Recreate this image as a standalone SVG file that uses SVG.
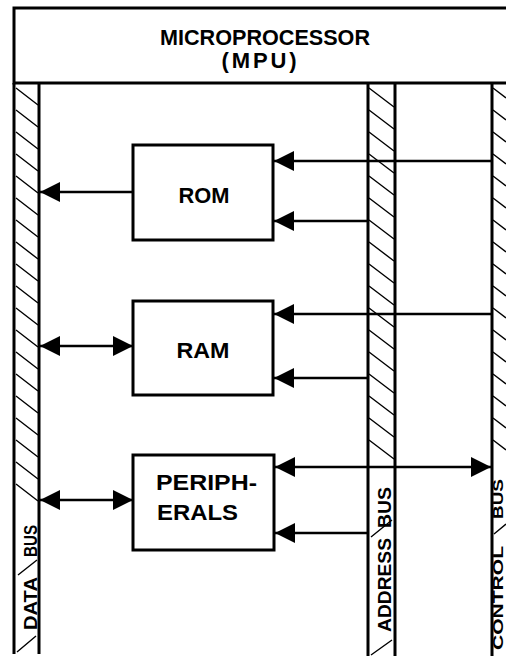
<svg xmlns="http://www.w3.org/2000/svg" width="506" height="656" viewBox="0 0 506 656">
<defs>
<style>
.box{fill:none;stroke:#000;stroke-width:3}
.bus{fill:none;stroke:#000;stroke-width:3}
.hatch{fill:none;stroke:#000;stroke-width:1.4}
.conn{fill:none;stroke:#000;stroke-width:2.6}
.lbl{font-family:"Liberation Sans",Arial,sans-serif;font-weight:bold;font-size:22px;fill:#000}
.bl{font-family:"Liberation Sans",Arial,sans-serif;font-weight:bold;font-size:18px;fill:#000}
.cb{font-size:14px}
</style>
<marker id="ah" markerUnits="userSpaceOnUse" markerWidth="20" markerHeight="20" viewBox="0 0 20 20" refX="20" refY="10" orient="auto-start-reverse">
<path d="M0,0 L20,10 L0,20 Z" fill="#000"/>
</marker>
</defs>
<rect width="506" height="656" fill="#fff"/>

<g id="mpu">
<path class="box" d="M506,8 H14 V83 H506"/>
<text class="lbl" x="265" y="45" text-anchor="middle" textLength="210" lengthAdjust="spacingAndGlyphs">MICROPROCESSOR</text>
<text class="lbl" x="259" y="68" text-anchor="middle" textLength="75" lengthAdjust="spacing">(MPU)</text>
</g>

<g id="data-bus">
<path class="bus" d="M14,83 V654 M39,83 V654"/>
<path class="hatch" d="M16,88 L38,105 M16,110 L38,127 M16,132 L38,149 M16,154 L38,171 M16,176 L38,193 M16,198 L38,215 M16,220 L38,237 M16,242 L38,259 M16,264 L38,281 M16,286 L38,303 M16,308 L38,325 M16,330 L38,347 M16,352 L38,369 M16,374 L38,391 M16,396 L38,413 M16,418 L38,435 M16,440 L38,457 M16,462 L38,479 M16,484 L38,501 M18,575 L37,560 M17,652 L36,636"/>
<text class="bl" transform="translate(37,630) rotate(-90)" textLength="53" lengthAdjust="spacingAndGlyphs">DATA</text>
<text class="bl" transform="translate(37,557) rotate(-90)" textLength="32" lengthAdjust="spacingAndGlyphs">BUS</text>
</g>

<g id="address-bus">
<path class="bus" d="M368,83 V656 M395,83 V656"/>
<path class="hatch" d="M369,88 L394,107 M369,110 L394,129 M369,132 L394,151 M369,154 L394,173 M369,176 L394,195 M369,198 L394,217 M369,220 L394,239 M369,242 L394,261 M369,264 L394,283 M369,286 L394,305 M369,308 L394,327 M369,330 L394,349 M369,352 L394,371 M369,374 L394,393 M369,396 L394,415 M369,418 L394,437 M369,440 L394,459 M371,537 L392,520 M371,655 L392,640"/>
<text class="bl" transform="translate(391,632) rotate(-90)" textLength="94" lengthAdjust="spacingAndGlyphs">ADDRESS</text>
<text class="bl" transform="translate(391,528) rotate(-90)" textLength="41" lengthAdjust="spacingAndGlyphs">BUS</text>
</g>

<g id="control-bus">
<path class="bus" d="M492,83 V656"/>
<path class="hatch" d="M493,88 L506,98 M493,110 L506,120 M493,132 L506,142 M493,154 L506,164 M493,176 L506,186 M493,198 L506,208 M493,220 L506,230 M493,242 L506,252 M493,264 L506,274 M493,286 L506,296 M493,308 L506,318 M493,330 L506,340 M493,352 L506,362 M493,374 L506,384 M493,396 L506,406 M493,418 L506,428 M493,440 L506,450 M494,534 L506,524"/>
<text class="bl cb" transform="translate(503,650) rotate(-90)" textLength="104" lengthAdjust="spacingAndGlyphs">CONTROL</text>
<text class="bl cb" transform="translate(503,519) rotate(-90)" textLength="40" lengthAdjust="spacingAndGlyphs">BUS</text>
</g>

<g id="rom">
<rect class="box" x="133" y="145" width="140" height="95"/>
<text class="lbl" x="204" y="203" text-anchor="middle" textLength="51" lengthAdjust="spacingAndGlyphs">ROM</text>
</g>

<g id="ram">
<rect class="box" x="133" y="301" width="140" height="94"/>
<text class="lbl" x="203" y="358" text-anchor="middle" textLength="53" lengthAdjust="spacingAndGlyphs">RAM</text>
</g>

<g id="peripherals">
<rect class="box" x="133" y="455" width="141" height="95"/>
<text class="lbl" x="156" y="490" textLength="101" lengthAdjust="spacingAndGlyphs">PERIPH-</text>
<text class="lbl" x="157" y="520" textLength="81" lengthAdjust="spacingAndGlyphs">ERALS</text>
</g>

<g id="connectors">
<line class="conn" x1="133" y1="192" x2="40" y2="192" marker-end="url(#ah)"/>
<line class="conn" x1="492" y1="161" x2="274" y2="161" marker-end="url(#ah)"/>
<line class="conn" x1="368" y1="221" x2="274" y2="221" marker-end="url(#ah)"/>
<line class="conn" x1="40" y1="346" x2="133" y2="346" marker-start="url(#ah)" marker-end="url(#ah)"/>
<line class="conn" x1="492" y1="314" x2="274" y2="314" marker-end="url(#ah)"/>
<line class="conn" x1="368" y1="378" x2="274" y2="378" marker-end="url(#ah)"/>
<line class="conn" x1="40" y1="500" x2="133" y2="500" marker-start="url(#ah)" marker-end="url(#ah)"/>
<line class="conn" x1="275" y1="467" x2="491" y2="467" marker-start="url(#ah)" marker-end="url(#ah)"/>
<line class="conn" x1="368" y1="533" x2="275" y2="533" marker-end="url(#ah)"/>
</g>
</svg>
